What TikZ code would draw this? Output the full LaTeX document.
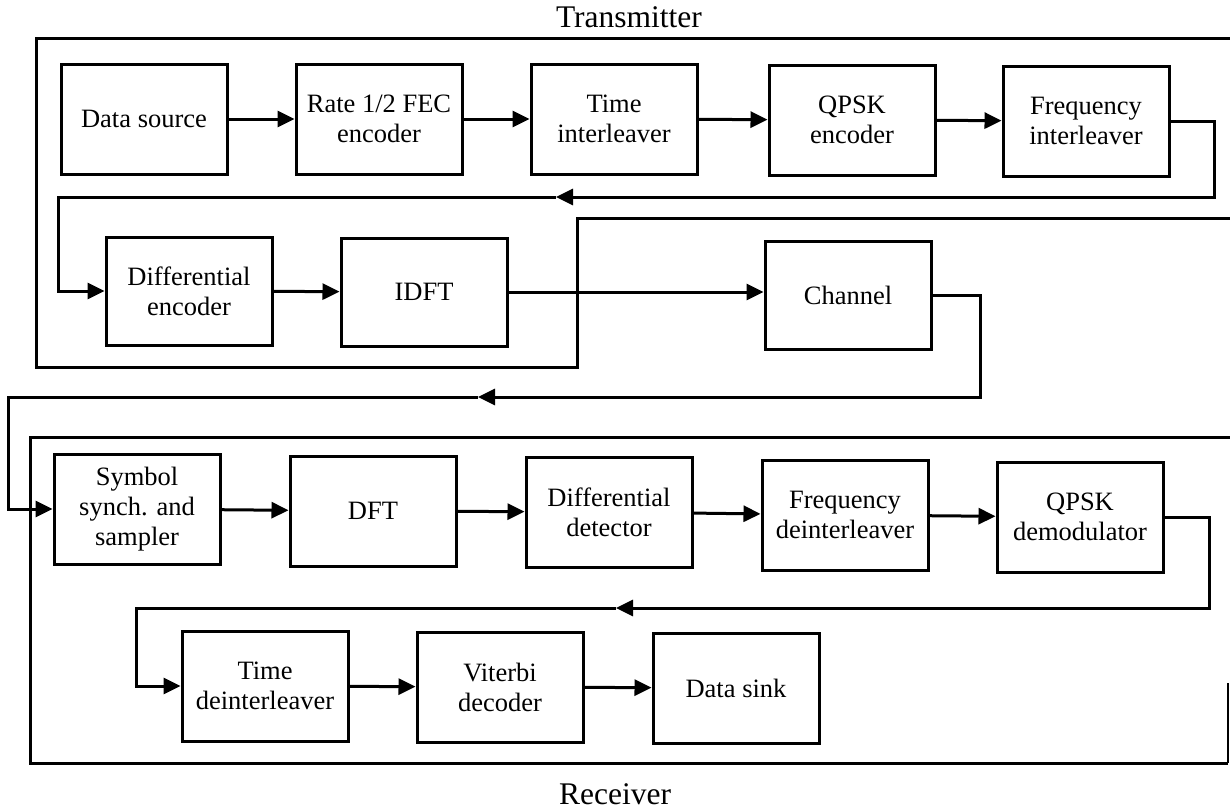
\documentclass[tikz,border=0pt]{standalone}
\usepackage{fontspec}
\setmainfont{Liberation Serif}
\usetikzlibrary{arrows.meta,calc}

\begin{document}
\begin{tikzpicture}[x=1pt,y=-1pt,
  blk/.style={draw, line width=3pt, minimum width=166pt, minimum height=110pt,
    align=center, inner sep=2pt, font=\fontsize{26.5}{30}\selectfont},
  link/.style={line width=3pt, -{Triangle[length=17pt,width=16pt]}},
  frame/.style={line width=3pt},
  heading/.style={font=\fontsize{31.5}{35}\selectfont}]

\useasboundingbox (0,0) rectangle (1230,809);

% section titles
\node[heading] (tx) at (629,17) {Transmitter};
\node[heading] (rx) at (615,794) {Receiver};

% transmitter outline
\draw[frame] (1230,38) -- (36,38) -- (36,367) -- (577,367) -- (577,218) -- (1230,218);
% receiver outline
\draw[frame] (1230,437) -- (30,437) -- (30,763) -- (1228,763);
\draw[line width=1.4pt] (1228,763) -- (1228,683);

% transmitter chain, first row
\node[blk] (src)  at (144,119)  {Data source};
\node[blk] (fec)  at (379,119)  {Rate 1/2 FEC\\encoder};
\node[blk] (til)  at (614,119)  {Time\\interleaver};
\node[blk] (qenc) at (852,120)  {QPSK\\encoder};
\node[blk] (fil)  at (1086,121) {Frequency\\interleaver};

% transmitter chain, second row
\node[blk, minimum height=108pt] (denc) at (189,291) {Differential\\encoder};
\node[blk, minimum height=108pt] (idft) at (424,292) {IDFT};
\node[blk, minimum height=108pt] (chan) at (848,295) {Channel};

% receiver chain, first row
\node[blk] (sync) at (137,509)  {Symbol\\synch. and\\sampler};
\node[blk] (dft)  at (373,511)  {DFT};
\node[blk] (ddet) at (609,512)  {Differential\\detector};
\node[blk] (fdil) at (845,515)  {Frequency\\deinterleaver};
\node[blk] (qdem) at (1080,517) {QPSK\\demodulator};

% receiver chain, second row
\node[blk] (tdil) at (265,686) {Time\\deinterleaver};
\node[blk] (vit)  at (500,687) {Viterbi\\decoder};
\node[blk] (sink) at (736,688) {Data sink};

% arrow points on the return paths
\coordinate (m1) at (556,197);
\coordinate (m2) at (478,397);
\coordinate (m3) at (616,608);

% row 1
\draw[link] (src) -- (fec);
\draw[link] (fec) -- (til);
\draw[link] (til) -- (qenc);
\draw[link] (qenc) -- (fil);
\draw[link] (fil.east) -| (1214,197) -- (m1);
\draw[link] (m1) -| ($(denc.west)+(-46,0)$) -- (denc.west);

% row 2
\draw[link] (denc) -- (idft);
\draw[link] (idft.east) -- (chan.west |- idft.east);
\draw[link] (chan.east) -| (980,397) -- (m2);
\draw[link] (m2) -| (8,509) -- (sync.west);

% row 3
\draw[link] (sync) -- (dft);
\draw[link] (dft) -- (ddet);
\draw[link] (ddet) -- (fdil);
\draw[link] (fdil) -- (qdem);
\draw[link] (qdem.east) -| (1209,608) -- (m3);
\draw[link] (m3) -| (136,686) -- (tdil.west);

% row 4
\draw[link] (tdil) -- (vit);
\draw[link] (vit) -- (sink);

\end{tikzpicture}
\end{document}
